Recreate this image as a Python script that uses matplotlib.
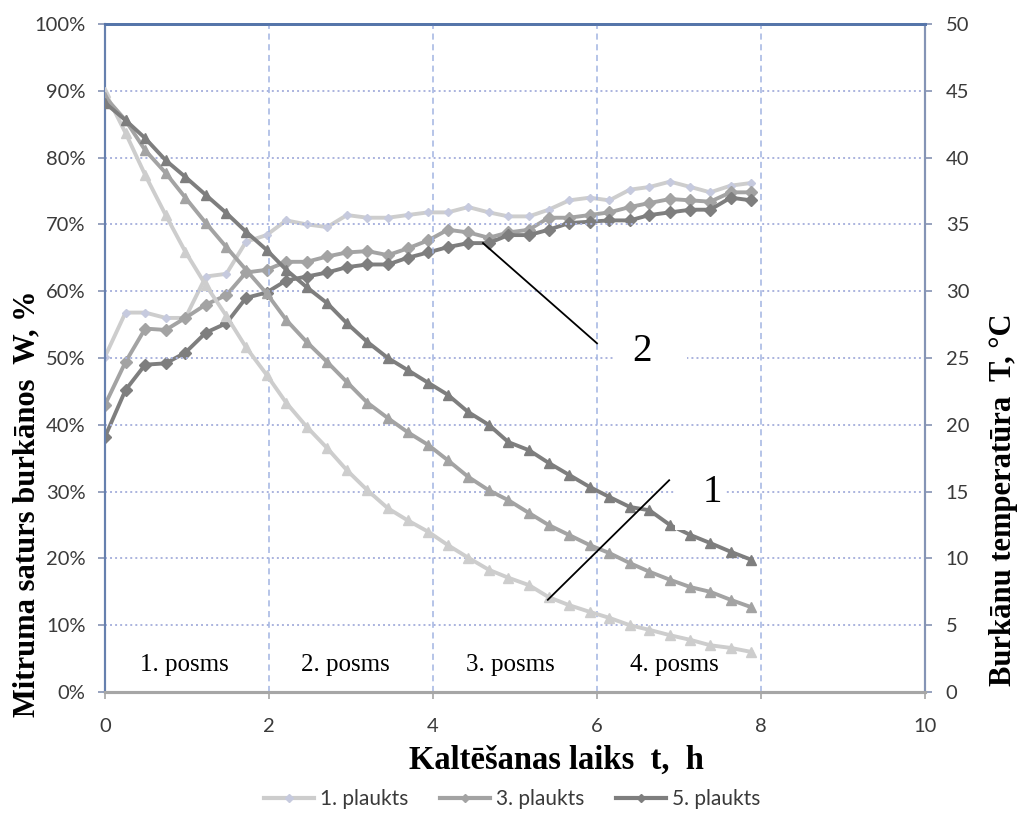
import matplotlib
matplotlib.use("Agg")
import matplotlib.pyplot as plt
from matplotlib.lines import Line2D
from matplotlib.patches import Rectangle

# time points, h
t = [0, 0.25, 0.49, 0.74, 0.98, 1.23, 1.48, 1.72, 1.97, 2.21, 2.46, 2.71, 2.95,
     3.2, 3.45, 3.69, 3.94, 4.18, 4.43, 4.68, 4.92, 5.17, 5.41, 5.66, 5.91,
     6.15, 6.4, 6.64, 6.89, 7.14, 7.38, 7.63, 7.88]

# moisture content W, %
W1 = [89.8, 83.7, 77.4, 71.4, 65.9, 60.9, 56.3, 51.6, 47.5, 43.3, 39.7, 36.5, 33.2,
      30.2, 27.5, 25.7, 24.0, 22.0, 20.1, 18.3, 17.1, 16.0, 14.2, 13.0, 12.0,
      11.1, 10.0, 9.3, 8.5, 7.8, 7.0, 6.6, 6.0]
W3 = [89.1, 85.6, 81.1, 77.7, 74.0, 70.2, 66.6, 63.2, 59.7, 55.7, 52.4, 49.4, 46.4,
      43.3, 41.0, 38.9, 37.0, 34.7, 32.2, 30.2, 28.7, 26.8, 25.0, 23.5, 22.0,
      20.8, 19.3, 18.0, 16.8, 15.7, 15.0, 13.8, 12.7]
W5 = [88.2, 85.6, 82.9, 79.6, 77.1, 74.4, 71.7, 68.9, 66.2, 63.2, 60.6, 58.2, 55.2,
      52.4, 50.0, 48.2, 46.3, 44.5, 41.9, 40.0, 37.4, 36.2, 34.3, 32.5, 30.7,
      29.2, 27.7, 27.2, 25.0, 23.5, 22.3, 21.0, 19.8]

# temperature T, °C
T1 = [25.1, 28.4, 28.4, 28.0, 28.0, 31.1, 31.3, 33.7, 34.2, 35.3, 35.0, 34.8, 35.7,
      35.5, 35.5, 35.7, 35.9, 35.9, 36.3, 35.9, 35.6, 35.6, 36.1, 36.8, 37.0,
      36.8, 37.6, 37.8, 38.2, 37.8, 37.4, 37.9, 38.1]
T3 = [21.5, 24.7, 27.2, 27.1, 28.0, 29.0, 29.7, 31.4, 31.6, 32.2, 32.2, 32.6, 32.9,
      33.0, 32.7, 33.2, 33.8, 34.6, 34.4, 34.0, 34.4, 34.6, 35.5, 35.5, 35.7,
      35.9, 36.3, 36.6, 36.9, 36.8, 36.7, 37.4, 37.4]
T5 = [19.1, 22.6, 24.5, 24.6, 25.4, 26.9, 27.6, 29.5, 29.9, 30.8, 31.1, 31.4, 31.8,
      32.0, 32.0, 32.5, 32.9, 33.3, 33.6, 33.6, 34.2, 34.2, 34.6, 35.1, 35.2,
      35.3, 35.3, 35.7, 35.9, 36.1, 36.1, 37.0, 36.8]

series_names = ["1. plaukts", "3. plaukts", "5. plaukts"]
stage_labels = ["1. posms", "2. posms", "3. posms", "4. posms"]
stage_x = [0.97, 2.93, 4.94, 6.94]

c1, c3, c5 = "#cdcdcd", "#a3a3a3", "#7e7e7e"
c1d = "#c6cade"

fig = plt.figure(figsize=(10.19, 8.13), dpi=100)
ax = fig.add_axes([105/1019, 1-692/813, 820/1019, 668/813])
ax2 = ax.twinx()

tick_font = "Lato"
serif = "Liberation Serif"

# grid
for y in range(10, 100, 10):
    ax.axhline(y, color="#aab3de", lw=1.4, ls=(0, (1, 1.6)), zorder=1)
for x in [2, 4, 6, 8]:
    ax.axvline(x, color="#a2b4e2", lw=1.1, ls=(0, (4, 3)), zorder=1)

lw = 2.8
# temperature (right axis)
ax2.plot(t, T1, color=c1, lw=lw, marker="D", ms=4.5, mfc=c1d, mec=c1d, zorder=3)
ax2.plot(t, T3, color=c3, lw=lw, marker="D", ms=6.5, mfc=c3, mec=c3, zorder=3)
ax2.plot(t, T5, color=c5, lw=lw, marker="D", ms=6.5, mfc=c5, mec=c5, zorder=3)
# moisture (left axis)
ax.plot(t, W1, color=c1, lw=lw, marker="^", ms=7.5, mfc=c1, mec=c1, zorder=3)
ax.plot(t, W3, color=c3, lw=lw, marker="^", ms=7.5, mfc=c3, mec=c3, zorder=3)
ax.plot(t, W5, color=c5, lw=lw, marker="^", ms=7.5, mfc=c5, mec=c5, zorder=3)

ax.set_xlim(0, 10)
ax.set_ylim(0, 100)
ax2.set_ylim(0, 50)
ax.set_zorder(ax2.get_zorder() + 1)
ax.patch.set_visible(False)

ax.set_xticks(range(0, 11, 2))
ax.set_yticks(range(0, 101, 10))
ax.set_yticklabels([f"{v}%" for v in range(0, 101, 10)])
ax2.set_yticks(range(0, 51, 5))

for a in (ax, ax2):
    for lab in a.get_xticklabels() + a.get_yticklabels():
        lab.set_fontfamily(tick_font)
        lab.set_fontsize(14.5)
        lab.set_color("#3a3a3a")

ax.tick_params(axis="y", direction="out", length=5, width=1.2, color="#8592b3", pad=9)
ax.tick_params(axis="x", direction="out", length=5, width=1.2, color="#a6a6a6", pad=14)
ax2.tick_params(axis="y", direction="out", length=5, width=1.2, color="#8592b3", pad=10)

for a in (ax, ax2):
    a.spines["top"].set_color("#5575aa")
    a.spines["top"].set_linewidth(2)
    a.spines["left"].set_color("#6680ae")
    a.spines["left"].set_linewidth(1.5)
    a.spines["right"].set_color("#8594b5")
    a.spines["right"].set_linewidth(1.5)
    a.spines["bottom"].set_color("#a6a6a6")
    a.spines["bottom"].set_linewidth(2.2)

# annotation leader lines and labels
ax.plot([4.61, 6.0], [67.2, 52.2], color="black", lw=1.3, zorder=6)
ax.plot([5.40, 6.88], [13.8, 31.7], color="black", lw=1.3, zorder=6)
ax.add_patch(Rectangle((6.2, 45), 0.9, 12, facecolor="white", edgecolor="none", zorder=5))
ax.add_patch(Rectangle((6.95, 24.2), 0.6, 11.5, facecolor="white", edgecolor="none", zorder=5))
ax.text(6.55, 50.9, "2", fontsize=28, family=serif, ha="center", va="center", zorder=7)
ax.text(7.41, 29.9, "1", fontsize=28, family=serif, ha="center", va="center", zorder=7)

for x, s in zip(stage_x, stage_labels):
    ax.text(x, 4.0, s, fontsize=18, family=serif, ha="center", va="center", zorder=7)

fig.text(556/1019, 1-760/813, "Kaltēšanas laiks  t,  h", fontsize=23.5, family=serif,
         fontweight="bold", ha="center", va="center")
fig.text(27/1019, 1-504/813, "Mitruma saturs burkānos  W, %", fontsize=22, family=serif,
         fontweight="bold", ha="center", va="center", rotation=90)
fig.text(1003/1019, 1-500/813, "Burkānu temperatūra  T, °C", fontsize=22, family=serif,
         fontweight="bold", ha="center", va="center", rotation=90)

handles = [Line2D([0], [0], color=c, lw=3, marker="D", ms=4, mfc=m, mec=m)
           for c, m in [(c1, c1d), (c3, c3), (c5, c5)]]
leg = fig.legend(handles, series_names, loc="center", bbox_to_anchor=(512/1019, 1-799/813),
                 ncol=3, frameon=False, handlelength=2.4, handletextpad=0.3,
                 columnspacing=1.5, prop={"family": tick_font, "size": 15})
for txt in leg.get_texts():
    txt.set_color("#3a3a3a")

fig.savefig("out.png", dpi=100)
